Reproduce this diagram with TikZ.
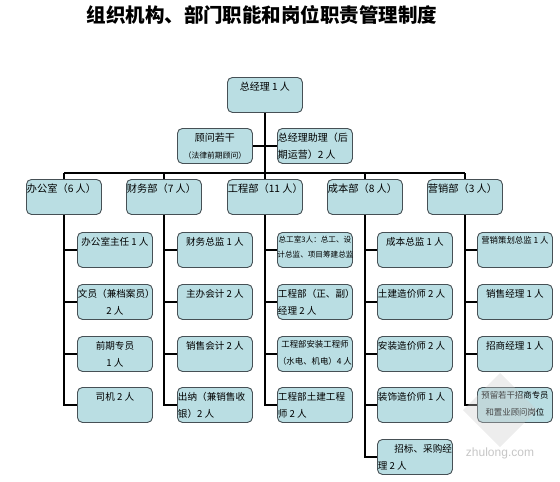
\documentclass[tikz,border=0pt]{standalone}
\usepackage{fontspec}
\setmainfont{Noto Sans CJK SC}
\newfontfamily\wmfont{Liberation Sans}
\pgfdeclarelayer{bg}
\pgfsetlayers{bg,main}
\definecolor{boxfill}{RGB}{186,222,227}
\definecolor{boxedge}{RGB}{70,80,85}
\newcommand\bt[3][\centering]{\parbox[c][35pt][t]{74pt}{\vspace*{4.5pt}\fontsize{#2}{17pt}\selectfont#1 #3\par}}
\newcommand\sm[3][15pt]{\parbox[c][35pt][t]{75pt}{\vspace*{3.5pt}\fontsize{#2}{#1}\selectfont\centering #3\par}}
\tikzset{
  box/.style={draw=boxedge, fill=boxfill, rounded corners=5pt, line width=0.9pt,
    inner sep=0pt, minimum width=75pt, minimum height=35pt, anchor=north west},
  conn/.style={line width=2.8pt, black},
}
\begin{document}
\begin{tikzpicture}[x=1pt,y=-1pt]
\useasboundingbox (0,0) rectangle (560,482);
\node[font=\fontsize{19.5}{20}\selectfont\bfseries] (title) at (262,15) {组织机构、部门职能和岗位职责管理制度};

% top
\node[box] (ceo) at (227,77) {\bt{10}{\mbox{总经理 1 人}}};
\node[box] (gw) at (177,128) {\bt{10}{顾问若干\\{\fontsize{7.8}{17pt}\selectfont（法律前期顾问）}}};
\node[box] (zl) at (277,128) {\bt[\raggedright]{10}{总经理助理（后\\期运营）2 人}};

% departments
\node[box] (d1) at (26,179) {\bt[\raggedright]{10.2}{\mbox{办公室（6 人）}}};
\node[box] (d2) at (126,179) {\bt[\raggedright]{10.2}{\mbox{财务部（7 人）}}};
\node[box] (d3) at (227,179) {\bt[\raggedright]{10.2}{\mbox{工程部（11 人）}}};
\node[box] (d4) at (327,179) {\bt[\raggedright]{10.2}{\mbox{成本部（8 人）}}};
\node[box] (d5) at (427,179) {\bt[\raggedright]{10.2}{\mbox{营销部（3 人）}}};

% office
\node[box] (a1) at (77,232) {\bt{9.6}{\mbox{办公室主任 1 人}}};
\node[box] (a2) at (77,284) {\bt{9.6}{\mbox{文员（兼档案员）}\\2 人}};
\node[box] (a3) at (77,336) {\bt{9.6}{前期专员\\1 人}};
\node[box] (a4) at (77,387) {\bt{9.6}{司机 2 人}};
% finance
\node[box] (b1) at (177,232) {\bt{9.6}{\mbox{财务总监 1 人}}};
\node[box] (b2) at (177,284) {\bt{9.6}{\mbox{主办会计 2 人}}};
\node[box] (b3) at (177,336) {\bt{9.6}{\mbox{销售会计 2 人}}};
\node[box] (b4) at (177,387) {\bt[\raggedright]{9.6}{\mbox{出纳（兼销售收}\\银）2 人}};
% engineering
\node[box] (c1) at (277,232) {\sm{7.6}{\mbox{总工室3人：总工、设}\\\mbox{计总监、项目筹建总监}}};
\node[box] (c2) at (277,284) {\bt[\raggedright]{9.6}{\mbox{工程部（正、副）}\\经理 2 人}};
\node[box] (c3) at (277,336) {\sm[17pt]{8.4}{\mbox{工程部安装工程师}\\\mbox{（水电、机电）4 人}}};
\node[box] (c4) at (277,387) {\bt[\raggedright]{9.6}{\mbox{工程部土建工程}\\师 2 人}};
% cost
\node[box] (e1) at (377,232) {\bt{9.6}{\mbox{成本总监 1 人}}};
\node[box] (e2) at (377,284) {\bt[\raggedright]{9.6}{\mbox{土建造价师 2 人}}};
\node[box] (e3) at (377,336) {\bt[\raggedright]{9.6}{\mbox{安装造价师 2 人}}};
\node[box] (e4) at (377,387) {\bt[\raggedright]{9.6}{\mbox{装饰造价师 1 人}}};
\node[box] (e5) at (377,439) {\bt[\raggedright]{9.6}{\hfill 招标、采购经\\理 2 人}};
% marketing
\node[box] (f1) at (477,232) {\sm{8.4}{\mbox{营销策划总监 1 人}}};
\node[box] (f2) at (477,284) {\bt{9.6}{\mbox{销售经理 1 人}}};
\node[box] (f3) at (477,336) {\bt{9.6}{\mbox{招商经理 1 人}}};
\node[box] (f4) at (477,387) {\sm[17pt]{8.4}{\mbox{预留若干招商专员}\\\mbox{和置业顾问岗位}}};

\coordinate (bar) at (0,173);

\begin{pgfonlayer}{bg}
  \draw[conn] (ceo.south) -- (ceo.south |- bar);
  \draw[conn] (gw.east) -- (zl.west);
  \draw[conn] (d1.north |- bar) -- (d5.north |- bar);
  \foreach \d/\last in {d1/a4, d2/b4, d3/c4, d4/e5, d5/f4}{
    \draw[conn] (\d.north |- bar) -- (\d.north);
    \draw[conn] (\d.south) |- (\last.west);
  }
  \foreach \d/\k in {d1/a1,d1/a2,d1/a3,d2/b1,d2/b2,d2/b3,d3/c1,d3/c2,d3/c3,
                     d4/e1,d4/e2,d4/e3,d4/e4,d5/f1,d5/f2,d5/f3}{
    \draw[conn] (\d.south |- \k.west) -- (\k.west);
  }
\end{pgfonlayer}

% watermark
\fill[gray!40, opacity=0.35] (500,373) -- (537,410) -- (500,447) -- (463,410) -- cycle;
\node[text=gray!45, font=\wmfont\fontsize{12}{12}\selectfont] (wm) at (500,453) {zhulong.com};
\end{tikzpicture}
\end{document}
